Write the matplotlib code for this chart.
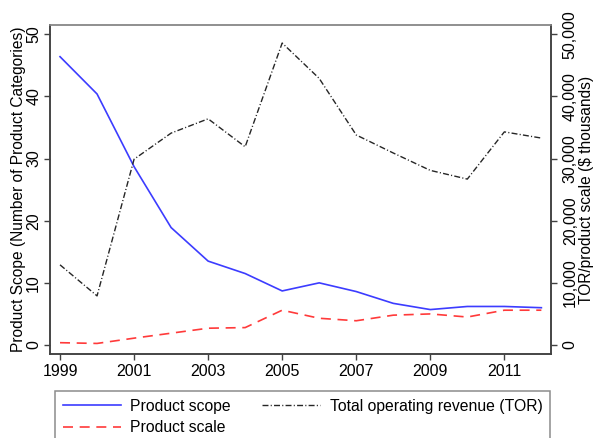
import matplotlib
matplotlib.use("Agg")
import matplotlib.pyplot as plt
from matplotlib.ticker import FuncFormatter

plt.rcParams['font.family'] = ['Liberation Sans', 'DejaVu Sans']

years = [1999, 2000, 2001, 2002, 2003, 2004, 2005, 2006, 2007, 2008, 2009, 2010, 2011, 2012]
product_scope = [46.4, 40.4, 28.7, 18.9, 13.5, 11.5, 8.7, 10.0, 8.6, 6.7, 5.7, 6.2, 6.2, 6.0]
product_scale = [370, 250, 1100, 1900, 2700, 2800, 5600, 4300, 3900, 4800, 5000, 4500, 5600, 5600]
tor = [12900, 7900, 29900, 34100, 36400, 31900, 48600, 42900, 33800, 30900, 28100, 26700, 34300, 33300]
xticks = [1999, 2001, 2003, 2005, 2007, 2009, 2011]
left_ticks = [0, 10, 20, 30, 40, 50]
right_ticks = [0, 10000, 20000, 30000, 40000, 50000]

W, H = 594, 438
fig = plt.figure(figsize=(W / 100, H / 100), dpi=100)
ax = fig.add_axes([49.5 / W, 84 / H, (551 - 49.5) / W, (354 - 25) / H])
ax2 = ax.twinx()

blue = '#3c3cff'
red = '#ff3a3a'
l1, = ax.plot(years, product_scope, color=blue, lw=1.2, label='Product scope')
l2, = ax2.plot(years, product_scale, color=red, lw=1.2, dashes=(6, 4), label='Product scale')
l3, = ax2.plot(years, tor, color='#262626', lw=1.0, dashes=(4.3, 1.6, 0.8, 1.6),
               label='Total operating revenue (TOR)')

ax.set_xlim(1998.716, 2012.26)
ax.set_ylim(-1.45, 51.5)
ax2.set_ylim(-1450, 51500)

ax.set_xticks(xticks)
ax.set_yticks(left_ticks)
ax2.set_yticks(right_ticks)
ax2.yaxis.set_major_formatter(FuncFormatter(lambda v, p: f"{int(v):,}"))

fs = 11.5
for a in (ax, ax2):
    a.tick_params(axis='both', labelsize=fs, length=4, width=1, color='#404040', direction='out', pad=3)
    for s in a.spines.values():
        s.set_color('#404040')
        s.set_linewidth(1.1)
    a.spines['top'].set_color('#8c8c8c')
ax.tick_params(axis='y', pad=2)
ax2.tick_params(axis='y', pad=4.5)
for lab in ax.get_yticklabels():
    lab.set_rotation(90)
    lab.set_va('center')
for lab in ax2.get_yticklabels():
    lab.set_rotation(90)
    lab.set_va('center')

ax.set_ylabel('Product Scope (Number of Product Categories)', fontsize=11.2, labelpad=0)
ax2.set_ylabel('TOR/product scale ($ thousands)', fontsize=11.2, labelpad=1)

leg = fig.legend(handles=[l1, l2, l3], ncol=2, loc='upper left',
                 bbox_to_anchor=(55 / W, 1 - 391 / H),
                 fontsize=11.3, handlelength=3.7, handletextpad=0.6,
                 labelspacing=0.42, columnspacing=2.0, borderpad=0.5,
                 fancybox=False, framealpha=1, edgecolor='#8c8c8c', borderaxespad=0)
leg.get_frame().set_linewidth(1.1)

fig.savefig('out.png', dpi=100)
